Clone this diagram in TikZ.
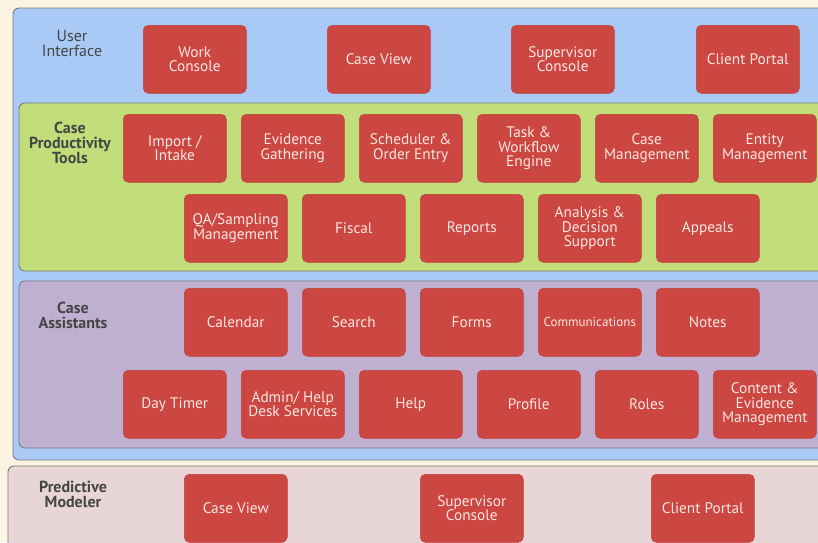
\documentclass[tikz,border=0pt]{standalone}
\usepackage{fontspec}
\setmainfont{PT Sans}
\definecolor{bgc}{HTML}{FCF4E3}
\definecolor{bluep}{HTML}{A9C9F6}
\definecolor{greenp}{HTML}{C1DE7A}
\definecolor{purplep}{HTML}{BFB0D1}
\definecolor{pinkp}{HTML}{E8D6D6}
\definecolor{boxred}{HTML}{CC4741}
\definecolor{boxedge}{HTML}{C0403B}
\definecolor{boxtxt}{HTML}{FBE6E2}
\definecolor{lbl}{HTML}{454545}
\definecolor{edgec}{HTML}{7A7A7A}
\begin{document}
\begin{tikzpicture}[x=1pt,y=-1pt,
  panel/.style={draw=edgec,line width=0.9pt,rounded corners=6pt},
  comp/.style={fill=boxred,draw=boxedge,line width=0.5pt,rounded corners=5pt,minimum width=103pt,minimum height=68pt,text=boxtxt,align=center,font=\fontsize{15.3}{14.5}\selectfont,inner sep=0pt,anchor=north west},
  grp/.style={text=lbl,align=center,font=\fontsize{16}{15}\selectfont\bfseries,inner sep=0pt}]
\fill[bgc] (0,0) rectangle (818,542);
\useasboundingbox (0,0) rectangle (818,542);
% panels
\draw[panel,fill=bluep] (13,8) rectangle (840,460);
\draw[panel,fill=greenp] (19,103) rectangle (840,271);
\draw[panel,fill=purplep] (19,281) rectangle (840,448);
\draw[panel,fill=pinkp] (8,466) rectangle (840,570);
% group labels
\node[grp,font=\fontsize{16}{15}\selectfont] (gui) at (72,43) {User\\Interface};
\node[grp] (gcpt) at (70,143) {Case\\Productivity\\Tools};
\node[grp] (gca) at (73,315) {Case\\Assistants};
\node[grp] (gpm) at (73,494) {Predictive\\Modeler};
% user interface
\node[comp] (wc) at (143,25) {Work\\Console};
\node[comp] (cv) at (327,25) {Case View};
\node[comp] (sc) at (511,25) {Supervisor\\Console};
\node[comp] (cp) at (696,25) {Client Portal};
% case productivity tools
\node[comp] (ii) at (123,114) {Import /\\Intake};
\node[comp] (eg) at (241,114) {Evidence\\Gathering};
\node[comp] (so) at (359,114) {Scheduler \&\\Order Entry};
\node[comp] (tw) at (477,114) {Task \&\\Workflow\\Engine};
\node[comp] (cm) at (595,114) {Case\\Management};
\node[comp] (em) at (713,114) {Entity\\Management};
\node[comp] (qa) at (184,194) {QA/Sampling\\Management};
\node[comp] (fi) at (302,194) {Fiscal};
\node[comp] (re) at (420,194) {Reports};
\node[comp] (ad) at (538,194) {Analysis \&\\Decision\\Support};
\node[comp] (ap) at (656,194) {Appeals};
% case assistants
\node[comp] (ca) at (184,288) {Calendar};
\node[comp] (se) at (302,288) {Search};
\node[comp] (fo) at (420,288) {Forms};
\node[comp,font=\fontsize{13}{14}\selectfont] (co) at (538,288) {Communications};
\node[comp] (no) at (656,288) {Notes};
\node[comp] (dt) at (123,370) {Day Timer};
\node[comp] (ah) at (241,370) {Admin/ Help\\Desk Services};
\node[comp] (he) at (359,370) {Help};
\node[comp] (pr) at (477,370) {Profile};
\node[comp] (ro) at (595,370) {Roles};
\node[comp] (ce) at (713,370) {Content \&\\Evidence\\Management};
% predictive modeler
\node[comp] (pcv) at (184,474) {Case View};
\node[comp] (psc) at (420,474) {Supervisor\\Console};
\node[comp] (pcp) at (651,474) {Client Portal};
\end{tikzpicture}
\end{document}
